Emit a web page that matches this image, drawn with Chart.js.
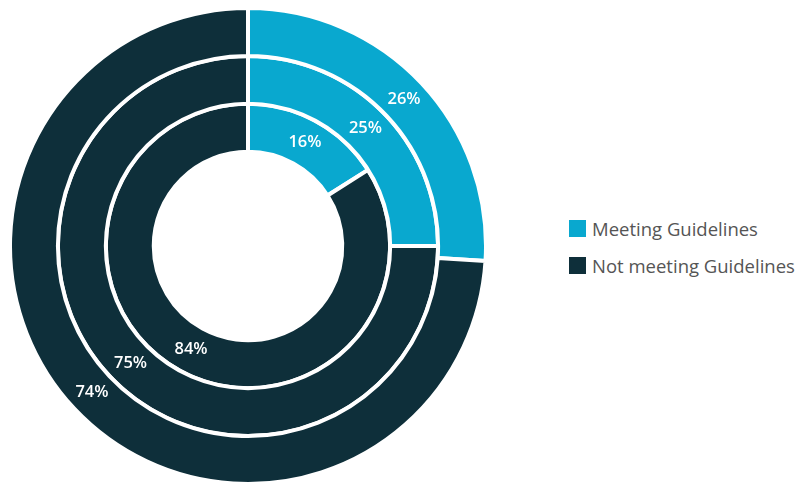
<!DOCTYPE html>
<html lang="en">
<head>
  <meta charset="UTF-8">
  <title>Guidelines</title>
  <script src="https://cdn.jsdelivr.net/npm/chart.js"></script>
  <style>
    body { margin: 0; background: #fff; width: 804px; height: 484px; overflow: hidden; position: relative; font-family: "Open Sans", sans-serif; }
    #wrap { position: absolute; left: 8px; top: 6px; width: 480px; height: 480px; }
    .legend { position: absolute; left: 569px; top: 218px; }
    .item { display: flex; align-items: center; height: 20px; margin-bottom: 17px; color: #555; font-size: 18.5px; }
    .box { width: 17px; height: 17px; margin-right: 6px; }
  </style>
</head>
<body>
  <div id="wrap"><canvas id="chart"></canvas></div>
  <div class="legend" id="legend"></div>

  <script>
    const categories = ['Meeting Guidelines', 'Not meeting Guidelines'];
    const colors = ['#09a8cf', '#0e2f3a'];
    // outer ring first
    const outerRing = [26, 74];
    const middleRing = [25, 75];
    const innerRing = [16, 84];

    // simple labels at arc centre
    const arcLabels = {
      id: 'arcLabels',
      afterDatasetsDraw(chart) {
        const ctx = chart.ctx;
        ctx.save();
        ctx.fillStyle = '#fff';
        ctx.font = '600 16.5px "Open Sans"';
        ctx.textAlign = 'center';
        ctx.textBaseline = 'middle';
        chart.data.datasets.forEach((ds, i) => {
          chart.getDatasetMeta(i).data.forEach((arc, j) => {
            const p = arc.tooltipPosition();
            ctx.fillText(ds.data[j] + '%', p.x, p.y);
          });
        });
        ctx.restore();
      }
    };

    new Chart(document.getElementById('chart'), {
      type: 'doughnut',
      data: {
        labels: categories,
        datasets: [outerRing, middleRing, innerRing].map(d => ({
          data: d,
          backgroundColor: colors,
          borderColor: '#fff',
          borderWidth: 4
        }))
      },
      options: {
        responsive: true,
        maintainAspectRatio: false,
        animation: false,
        cutout: '39.6%',
        plugins: {
          legend: { display: false },
          tooltip: { enabled: false }
        }
      },
      plugins: [arcLabels]
    });

    const legend = document.getElementById('legend');
    categories.forEach((c, i) => {
      legend.innerHTML += `<div class="item"><span class="box" style="background:${colors[i]}"></span>${c}</div>`;
    });
  </script>
</body>
</html>
